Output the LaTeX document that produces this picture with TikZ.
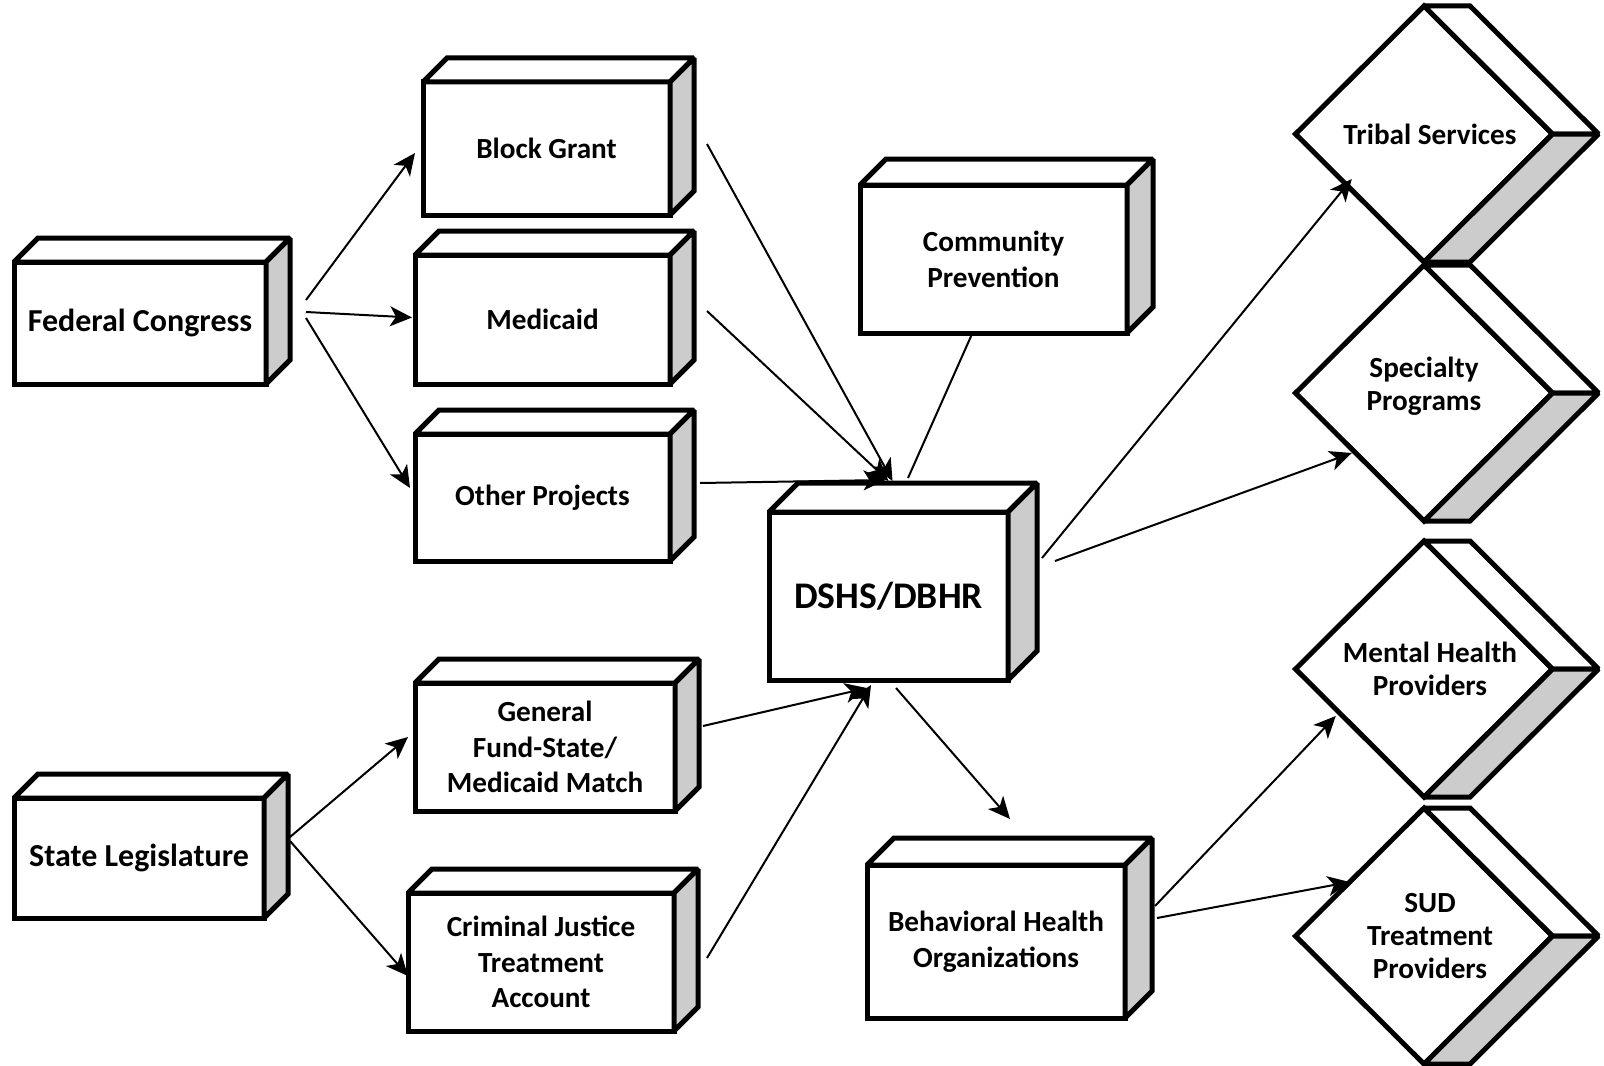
\documentclass[tikz,border=0pt]{standalone}
\usepackage{fontspec}
\setmainfont{Carlito}
\usetikzlibrary{shapes.geometric,arrows.meta}

\definecolor{sidegrey}{RGB}{204,204,204}

\tikzset{
	box/.style={draw, line width=2.5pt, fill=white, outer sep=0pt, inner sep=2pt, align=center, font=\fontsize{14.6}{17.9}\selectfont\bfseries},
	gem/.style={diamond, draw, line width=2.5pt, fill=white, outer sep=0pt, inner sep=0pt, aspect=1, minimum width=128.5pt, minimum height=128pt, align=center, font=\fontsize{14.6}{16.6}\selectfont\bfseries},
	face/.style={draw, line width=2.5pt, fill=white, line join=miter, miter limit=2},
	flow/.style={line width=1pt, -{Stealth[length=11pt,width=10pt,inset=3pt]}}
}

\newcommand{\cuboid}[8][]{
	\pgfmathsetmacro{\CBw}{#5/2}
	\pgfmathsetmacro{\CBh}{#6/2}
	\node[box, #1, minimum width=\CBw pt, minimum height=\CBh pt] (#2) at (#3,#4) {#8};
	\draw[face] (#2.north west) -- ++(#7,-#7) -- ([shift={(#7,-#7)}]#2.north east) -- (#2.north east) -- cycle;
	\draw[face, fill=sidegrey] (#2.north east) -- ++(#7,-#7) -- ([shift={(#7,-#7)}]#2.south east) -- (#2.south east) -- cycle;
}

\newcommand{\prism}[5]{
	\node[gem] (#1) at (#2,#3) {#5};
	\draw[face] (#1.north) -- ++(#4,0) -- ([shift={(#4,0)}]#1.east) -- (#1.east) -- cycle;
	\draw[face, fill=sidegrey] (#1.east) -- ++(#4,0) -- ([shift={(#4,0)}]#1.south) -- (#1.south) -- cycle;
}

\begin{document}
\begin{tikzpicture}[x=0.5pt, y=-0.5pt]
\useasboundingbox (0,0) rectangle (1604,1065);

\cuboid[font=\fontsize{16}{19.5}\selectfont\bfseries]{fc}{140}{323}{252}{122}{24}{Federal Congress}
\cuboid[font=\fontsize{16}{19.5}\selectfont\bfseries]{sl}{139}{858}{250}{120}{24}{State Legislature}

\cuboid{bg}{546.5}{148.5}{247}{133}{24}{Block Grant}
\cuboid{med}{542.5}{319.5}{255}{129}{24}{Medicaid}
\cuboid{oth}{542.5}{497.5}{255}{127}{24}{Other Projects}
\cuboid{gf}{545}{747}{260}{128}{24}{General\\Fund-State/\\Medicaid Match}
\cuboid{cj}{541}{962}{266}{138}{24}{Criminal Justice\\Treatment\\Account}

\cuboid{cp}{993.5}{259}{267}{148}{26}{Community\\Prevention}
\cuboid[font=\fontsize{18.8}{22}\selectfont\bfseries]{dshs}{888.5}{596}{239}{168}{29}{DSHS/DBHR}
\cuboid{bho}{996}{941.5}{258}{153}{27}{Behavioral Health\\Organizations}

\prism{tribal}{1424}{134}{46}{\hspace*{6pt}Tribal Services}
\prism{spec}{1424}{393}{46}{Specialty\\Programs\\[-7pt]}
\prism{mhp}{1424}{669}{46}{\hspace*{6pt}Mental Health\\\hspace*{6pt}Providers}
\prism{sud}{1424}{936}{46}{\hspace*{6pt}SUD\\\hspace*{6pt}Treatment\\\hspace*{6pt}Providers}

\draw[flow] ([shift={(40,-23)}]fc.east) -- ([shift={(-8,4.5)}]bg.west);
\draw[flow] ([shift={(40,-11)}]fc.east) -- ([shift={(-3,-2)}]med.west);
\draw[flow] ([shift={(40,-5)}]fc.east) -- ([shift={(-5,-9.5)}]oth.west);

\draw[flow] ([shift={(37,-4.5)}]bg.east) -- ([shift={(4,-31)}]dshs.north);
\draw[flow] ([shift={(37,-8.5)}]med.east) -- ([shift={(0,-31)}]dshs.north);
\draw[flow] ([shift={(30,-14.5)}]oth.east) -- ([shift={(-3,-32)}]dshs.north);
\draw[line width=1pt] ([shift={(-21.5,1)}]cp.south) -- ([shift={(19.5,-34)}]dshs.north);

\draw[flow] ([shift={(26,-21)}]sl.east) -- ([shift={(-7,-10)}]gf.west);
\draw[flow] ([shift={(26,-17)}]sl.east) -- ([shift={(0,14)}]cj.west);
\draw[flow] ([shift={(28,-21)}]gf.east) -- ([shift={(-21.5,8)}]dshs.south);
\draw[flow] ([shift={(33,-4)}]cj.east) -- ([shift={(-17.5,5)}]dshs.south);

\draw[flow] ([shift={(7.5,8)}]dshs.south) -- ([shift={(14,-46)}]bho.north);
\draw[flow] ([shift={(34,-38)}]dshs.east) -- ([shift={(-8,-19)}]tribal.south west);
\draw[flow] ([shift={(47,-35)}]dshs.east) -- ([shift={(-8,-4)}]spec.south west);

\draw[flow] ([shift={(30,-35.5)}]bho.east) -- ([shift={(-24,-17)}]mhp.south west);
\draw[flow] ([shift={(32,-23.5)}]bho.east) -- ([shift={(-10,10)}]sud.north west);
\end{tikzpicture}
\end{document}
